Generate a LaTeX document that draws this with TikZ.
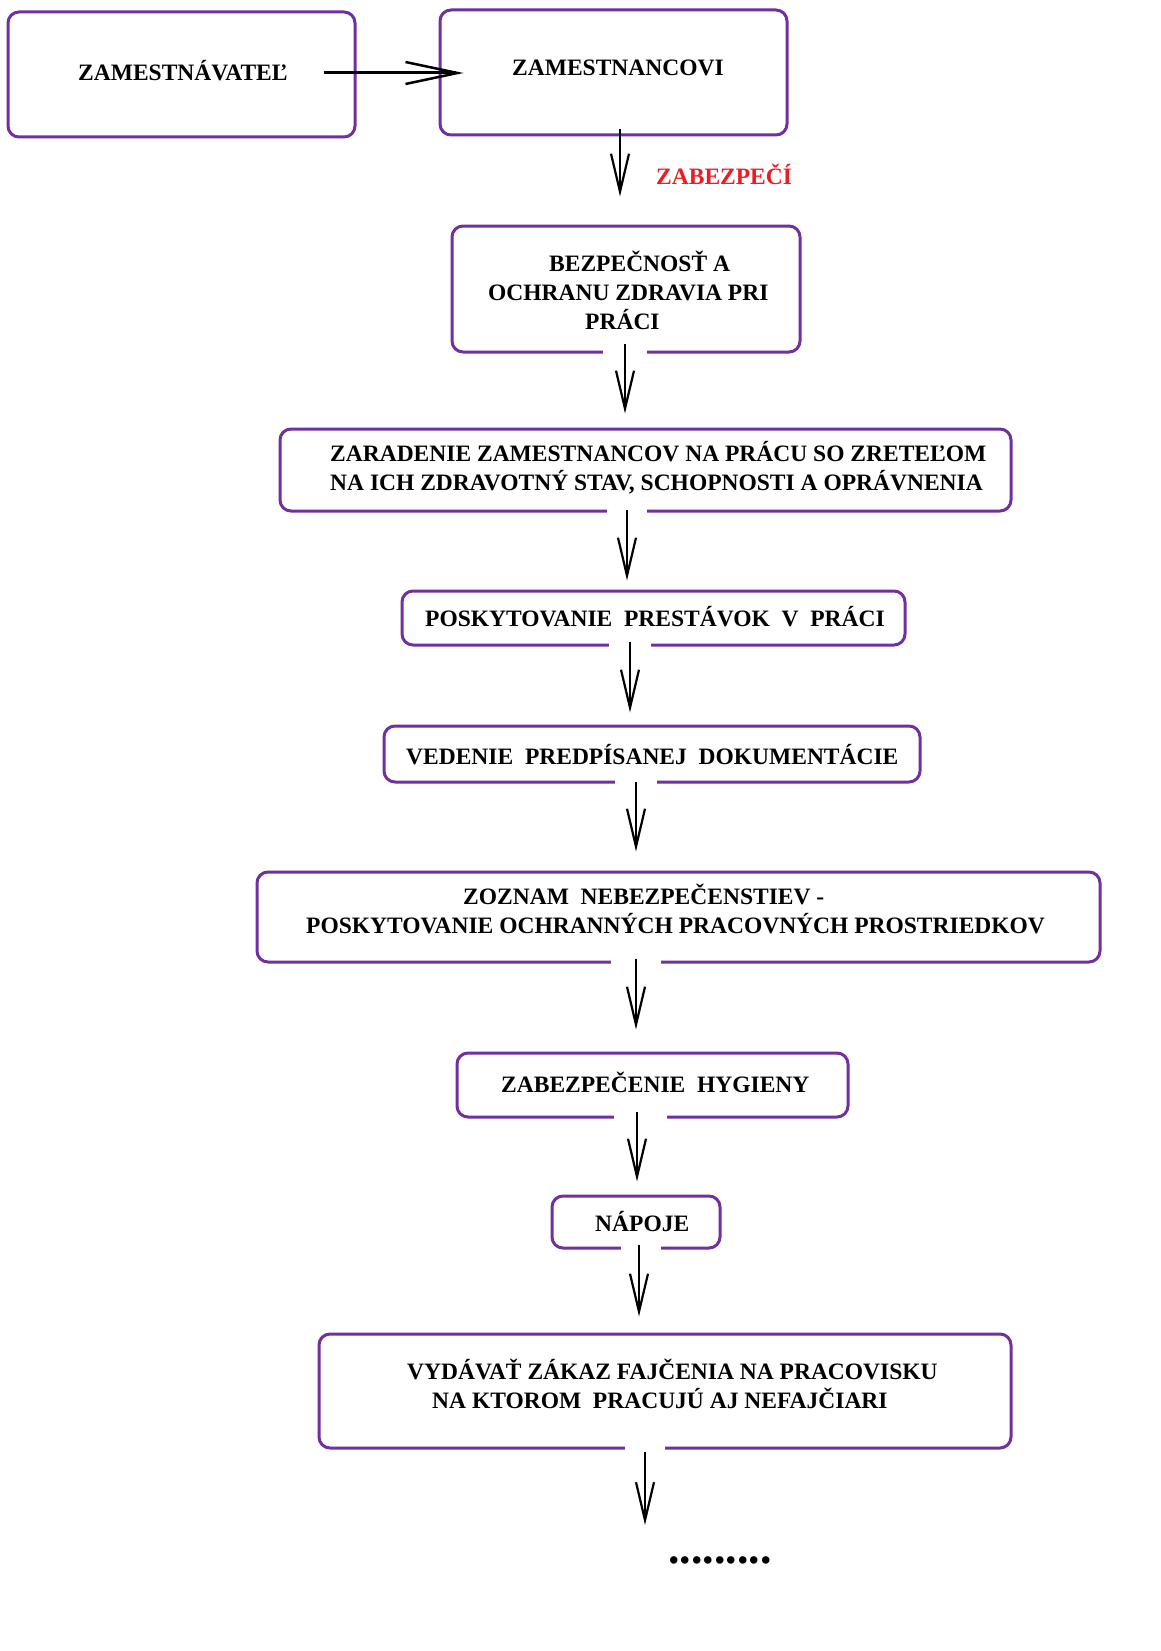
\documentclass[tikz,border=0pt]{standalone}
\usepackage{fontspec}
\setmainfont{Liberation Serif}
\usetikzlibrary{arrows.meta}
\definecolor{boxpurple}{RGB}{112,48,160}
\definecolor{labred}{RGB}{237,28,36}
\begin{document}
\begin{tikzpicture}[x=1pt,y=-1pt,
  box/.style={draw=boxpurple, line width=3pt, rounded corners=11pt, inner sep=0pt, rectangle},
  txt/.style={font=\fontsize{23.5}{29}\selectfont\bfseries, inner sep=0pt, anchor=base west},
  gapline/.style={draw=white, line width=8pt},
  arr/.style={draw=black, line width=2.2pt, -{Straight Barb[length=38pt,width=18pt,line width=2.2pt]}},
  harr/.style={draw=black, line width=3pt, -{Straight Barb[length=52pt,width=22pt,line width=2.5pt]}}]
\useasboundingbox (0,0) rectangle (1161,1651);
\fill[white] (0,0) rectangle (1161,1651);
% boxes
\node[box, minimum width=347pt, minimum height=125pt] (b1) at (181.5,74.5) {};
\node[box, minimum width=347pt, minimum height=125pt] (b2) at (613.5,72.5) {};
\node[box, minimum width=348pt, minimum height=126pt] (b4) at (626,289) {};
\node[box, minimum width=731pt, minimum height=82pt] (b5) at (645.5,470) {};
\node[box, minimum width=503pt, minimum height=54pt] (b6) at (653.5,618) {};
\node[box, minimum width=536pt, minimum height=56pt] (b7) at (652,754) {};
\node[box, minimum width=843pt, minimum height=90pt] (b8) at (678.5,917) {};
\node[box, minimum width=391pt, minimum height=64pt] (b9) at (652.5,1085) {};
\node[box, minimum width=168pt, minimum height=52pt] (b10) at (636,1222) {};
\node[box, minimum width=692pt, minimum height=114pt] (b11) at (665,1391) {};
% texts
\node[txt] (t1) at (78,81) {ZAMESTNÁVATEĽ};
\node[txt] (t2) at (512,76) {ZAMESTNANCOVI};
\node[txt, text=labred] (lab) at (656,184) {ZABEZPEČÍ};
\node[txt] (t4a) at (549,271) {BEZPEČNOSŤ A};
\node[txt] (t4b) at (488,300) {OCHRANU ZDRAVIA PRI};
\node[txt] (t4c) at (585,329) {PRÁCI};
\node[txt] (t5a) at (330,461) {ZARADENIE ZAMESTNANCOV NA PRÁCU SO ZRETEĽOM};
\node[txt] (t5b) at (330,490) {NA ICH ZDRAVOTNÝ STAV, SCHOPNOSTI A OPRÁVNENIA};
\node[txt] (t6) at (425,626) {POSKYTOVANIE\ \ PRESTÁVOK\ \ V\ \ PRÁCI};
\node[txt] (t7) at (406,764) {VEDENIE\ \ PREDPÍSANEJ\ \ DOKUMENTÁCIE};
\node[txt] (t8a) at (463,904) {ZOZNAM\ \ NEBEZPEČENSTIEV -};
\node[txt] (t8b) at (306,933) {POSKYTOVANIE OCHRANNÝCH PRACOVNÝCH PROSTRIEDKOV};
\node[txt] (t9) at (501,1092) {ZABEZPEČENIE\ \ HYGIENY};
\node[txt] (t10) at (595,1231) {NÁPOJE};
\node[txt] (t11a) at (407,1379) {VYDÁVAŤ ZÁKAZ FAJČENIA NA PRACOVISKU};
\node[txt] (t11b) at (432,1408) {NA KTOROM\ \ PRACUJÚ AJ NEFAJČIARI};
\node[txt, font=\fontsize{46}{46}\selectfont\bfseries] (dots) at (668,1563) {.........};
% gaps in bottom borders
\draw[gapline] ([xshift=-23pt]b4.south) -- ([xshift=21pt]b4.south);
\draw[gapline] ([xshift=-38.5pt]b5.south) -- ([xshift=1.5pt]b5.south);
\draw[gapline] ([xshift=-44.5pt]b6.south) -- ([xshift=-2.5pt]b6.south);
\draw[gapline] ([xshift=-37pt]b7.south) -- ([xshift=5pt]b7.south);
\draw[gapline] ([xshift=-67.5pt]b8.south) -- ([xshift=-17.5pt]b8.south);
\draw[gapline] ([xshift=-38.5pt]b9.south) -- ([xshift=14.5pt]b9.south);
\draw[gapline] ([xshift=-15pt]b10.south) -- ([xshift=25pt]b10.south);
\draw[gapline] ([xshift=-40pt]b11.south) -- ([xshift=0pt]b11.south);
% arrows
\draw[harr] ([xshift=-33pt,yshift=1.5pt]b1.east) -- ([xshift=25pt,yshift=-0.5pt]b2.west);
\draw[arr] ([xshift=6.5pt,yshift=7pt]b2.south) -- ([xshift=-6pt,yshift=28pt]b4.north);
\draw[arr] ([xshift=-1pt,yshift=10pt]b4.south) -- ([xshift=-20.5pt,yshift=14pt]b5.north);
\draw[arr] ([xshift=-18.5pt,yshift=3pt]b5.south) -- ([xshift=-26.5pt,yshift=9pt]b6.north);
\draw[arr] ([xshift=-23.5pt,yshift=5pt]b6.south) -- ([xshift=-22pt,yshift=12pt]b7.north);
\draw[arr] ([xshift=-16pt,yshift=2pt]b7.south) -- ([xshift=-42.5pt,yshift=19pt]b8.north);
\draw[arr] ([xshift=-42.5pt,yshift=5pt]b8.south) -- ([xshift=-16.5pt,yshift=22pt]b9.north);
\draw[arr] ([xshift=-15.5pt,yshift=7pt]b9.south) -- ([xshift=1pt,yshift=13pt]b10.north);
\draw[arr] ([xshift=3pt,yshift=5pt]b10.south) -- ([xshift=-26pt,yshift=16pt]b11.north);
\coordinate (endc) at (645,1525);
\draw[arr] ([xshift=-20pt,yshift=-2pt]b11.south) -- (endc);
\end{tikzpicture}
\end{document}
